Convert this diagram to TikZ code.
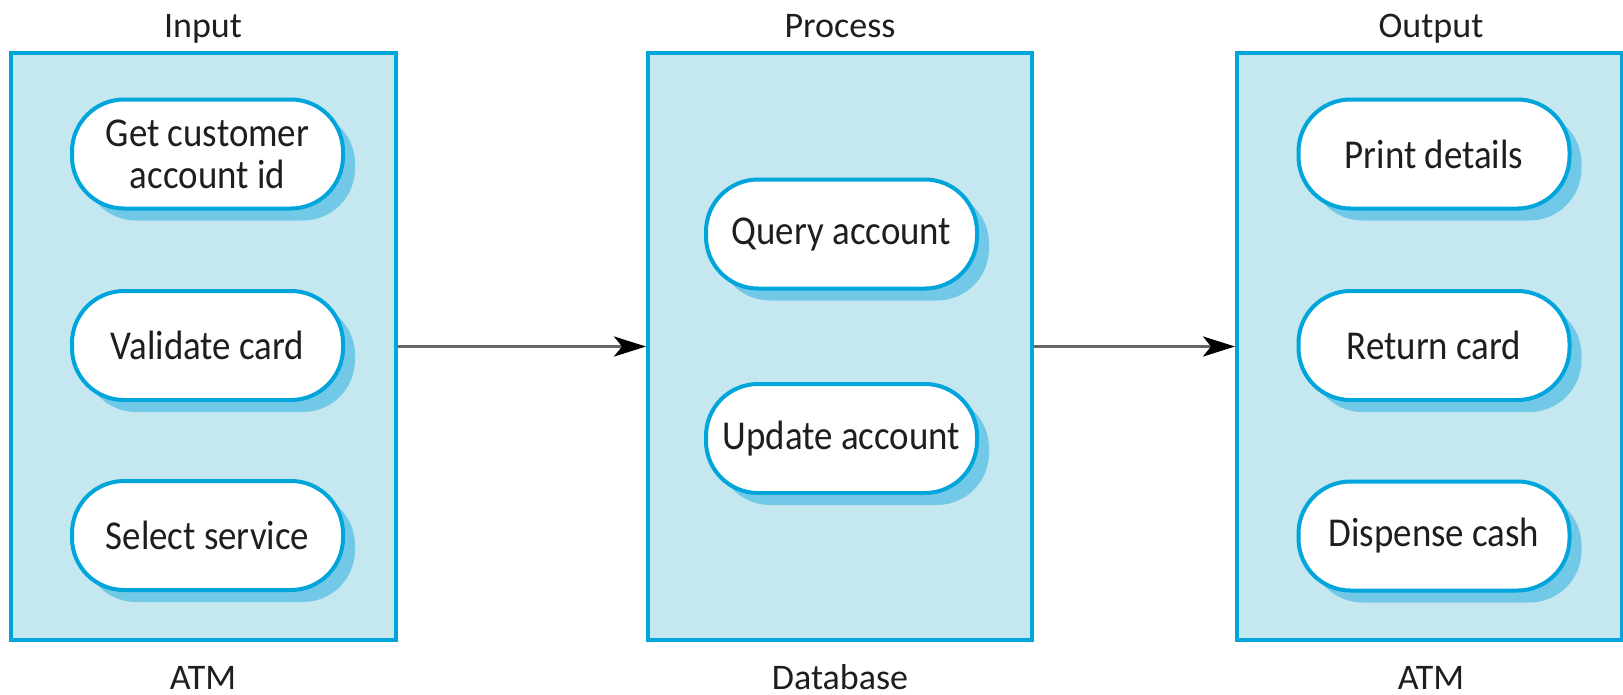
\documentclass[tikz,border=0pt]{standalone}
\usepackage{fontspec}
\setmainfont{Carlito}
\newfontfamily\procfont{Carlito}[FakeStretch=0.9]
\usetikzlibrary{shadows,arrows.meta}
\definecolor{boxfill}{HTML}{C5E7F0}
\definecolor{cyanline}{HTML}{00A5DC}
\definecolor{shadowc}{HTML}{72C9E7}
\definecolor{arrowgray}{HTML}{666666}
\definecolor{txt}{HTML}{1E1E1E}
\begin{document}
\begin{tikzpicture}[x=1pt,y=-1pt,
  box/.style={draw=cyanline, line width=4pt, fill=boxfill, minimum width=385pt, minimum height=587pt, inner sep=0pt},
  proc/.style={draw=cyanline, line width=4pt, fill=white, rounded corners=52pt, minimum width=271pt, minimum height=109pt, inner sep=0pt, align=center, font=\procfont\fontsize{41}{42}\selectfont, text=txt,
    drop shadow={shadow xshift=12pt, shadow yshift=-12pt, fill=shadowc, opacity=1}},
  lbl/.style={font=\fontsize{36}{40}\selectfont, text=txt, inner sep=0pt, anchor=base},
  arr/.style={draw=arrowgray, line width=3pt, -{Stealth[length=32pt,width=20pt,inset=8pt,color=black]}}
]
\useasboundingbox (0,0) rectangle (1623,694);
\fill[white] (0,0) rectangle (1623,694);
% boxes
\node[box] (inbox) at (203.5,346.5) {};
\node[box, minimum width=384pt] (prbox) at (840,346.5) {};
\node[box] (outbox) at (1429.5,346.5) {};
% labels
\node[lbl] (tin) at (203,37) {Input};
\node[lbl] (tpr) at (840,37) {Process};
\node[lbl] (tout) at (1431,37) {Output};
\node[lbl] (bin) at (203,689) {ATM};
\node[lbl] (bpr) at (840,689) {Database};
\node[lbl] (bout) at (1431,689) {ATM};
% processes
\node[proc] (gc) at (207.5,154) {Get customer\\account id};
\node[proc] (vc) at (207.5,345.5) {Validate card};
\node[proc] (ss) at (207.5,535.5) {Select service};
\node[proc] (qa) at (841.5,234) {Query account};
\node[proc] (ua) at (841.5,438.5) {Update account};
\node[proc] (pd) at (1434,154) {Print details};
\node[proc] (rc) at (1434,345.5) {Return card};
\node[proc] (dc) at (1434,536) {Dispense cash};
% connectors
\draw[arr] (inbox.east) -- (prbox.west);
\draw[arr] (prbox.east) -- (outbox.west);
\end{tikzpicture}
\end{document}
